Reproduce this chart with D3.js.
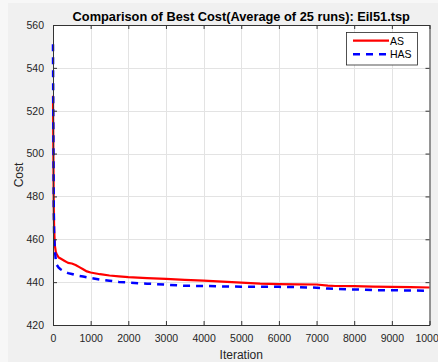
<!DOCTYPE html>
<html>
<head>
<meta charset="utf-8">
<script src="https://cdn.jsdelivr.net/npm/d3@7/dist/d3.min.js"></script>
<style>
  html, body { margin: 0; padding: 0; background: #f7f7f7; }
  svg { display: block; }
  text { font-family: "Liberation Sans", Arial, Helvetica, sans-serif; }
</style>
</head>
<body>
<svg id="chart" width="438" height="362"></svg>
<script>
// Iteration checkpoints shared by both series
const iterations = [0, 10, 20, 30, 50, 75, 100, 150, 200, 300, 400, 500, 600, 700, 800, 900,
  1000, 1250, 1500, 1750, 2000, 2500, 3000, 3500, 4000, 4500, 5000, 5500, 6000, 6500,
  7000, 7300, 7500, 8000, 8500, 9000, 9500, 10000];

// Best cost averaged over 25 runs, Ant System
const asCost = [527, 500, 475, 465, 457, 454, 453, 451.5, 451, 450, 449, 448.7, 448, 447, 446, 445,
  444.5, 443.7, 443.1, 442.7, 442.3, 441.9, 441.5, 441.1, 440.7, 440.2, 439.8, 439.3, 439.1, 439.0,
  438.9, 438.4, 438.2, 438.1, 437.9, 437.8, 437.7, 437.5];

// Best cost averaged over 25 runs, Hybrid Ant System
const hasCost = [551, 510, 475, 462, 455, 450, 448, 446.8, 446, 445, 444.2, 443.8, 443.3, 442.9, 442.6, 442.3,
  441.9, 441.2, 440.7, 440.1, 439.8, 439.3, 438.8, 438.3, 438.2, 438.0, 437.9, 437.9, 437.8, 437.7,
  437.4, 437.0, 436.8, 436.6, 436.3, 436.2, 436.1, 436.0];

const xTicks = [0, 1000, 2000, 3000, 4000, 5000, 6000, 7000, 8000, 9000, 10000];
const yTicks = [420, 440, 460, 480, 500, 520, 540, 560];

const seriesNames = ["AS", "HAS"];
const seriesColors = ["#ff0000", "#0000ff"];

const svg = d3.select("#chart");
const W = 438, H = 362;
const pLeft = 53, pRight = 429.5, pTop = 25, pBottom = 325;

// figure background
svg.append("rect").attr("x", 8).attr("y", 3).attr("width", W - 8).attr("height", H - 3)
  .attr("fill", "#f0f0f0");

const x = d3.scaleLinear().domain([0, 10000]).range([pLeft, pRight]);
const y = d3.scaleLinear().domain([420, 560]).range([pBottom, pTop]);

// axes area
svg.append("rect").attr("x", pLeft).attr("y", pTop)
  .attr("width", pRight - pLeft).attr("height", pBottom - pTop).attr("fill", "#ffffff");

// grid
const grid = svg.append("g").attr("stroke", "#e3e3e3").attr("stroke-width", 1);
grid.selectAll(".gx").data(xTicks.slice(1, -1)).join("line")
  .attr("x1", d => Math.round(x(d)) + 0.5).attr("x2", d => Math.round(x(d)) + 0.5)
  .attr("y1", pTop).attr("y2", pBottom);
grid.selectAll(".gy").data(yTicks.slice(1, -1)).join("line")
  .attr("y1", d => Math.round(y(d)) + 0.5).attr("y2", d => Math.round(y(d)) + 0.5)
  .attr("x1", pLeft).attr("x2", pRight);

// data lines
const line = d3.line().x((d, i) => x(iterations[i])).y(d => y(d));
const plot = svg.append("g");
plot.append("path").datum(asCost).attr("d", line)
  .attr("fill", "none").attr("stroke", seriesColors[0]).attr("stroke-width", 2.2)
  .attr("stroke-linejoin", "round");
plot.append("path").datum(hasCost).attr("d", line)
  .attr("fill", "none").attr("stroke", seriesColors[1]).attr("stroke-width", 2.5)
  .attr("stroke-dasharray", "7,6");

// axes with inward ticks, mirrored on top and right (box on)
const axisColor = "#333333";
const tickLen = 4;
const axisFont = 10.5;
const plain = d3.format("d");

const xAxisB = d3.axisBottom(x).tickValues(xTicks).tickFormat(plain)
  .tickSizeInner(-tickLen).tickSizeOuter(0).tickPadding(10);
const yAxisL = d3.axisLeft(y).tickValues(yTicks).tickFormat(plain)
  .tickSizeInner(-tickLen).tickSizeOuter(0).tickPadding(9);
const xAxisT = d3.axisTop(x).tickValues(xTicks).tickSizeInner(-tickLen).tickSizeOuter(0).tickFormat("");
const yAxisR = d3.axisRight(y).tickValues(yTicks).tickSizeInner(-tickLen).tickSizeOuter(0).tickFormat("");

function styleAxis(g) {
  g.select(".domain").attr("stroke", axisColor);
  g.selectAll(".tick line").attr("stroke", axisColor);
  g.selectAll(".tick text").attr("fill", "#262626").attr("font-size", axisFont)
    .attr("font-family", "'Liberation Sans', Arial, sans-serif");
}

svg.append("g").attr("transform", `translate(0,${pBottom})`).call(xAxisB).call(styleAxis);
svg.append("g").attr("transform", `translate(${pLeft},0)`).call(yAxisL).call(styleAxis);
svg.append("g").attr("transform", `translate(0,${pTop})`).call(xAxisT).call(styleAxis);
svg.append("g").attr("transform", `translate(${pRight},0)`).call(yAxisR).call(styleAxis);

// title and axis labels
svg.append("text").attr("x", (pLeft + pRight) / 2).attr("y", 20.5)
  .attr("text-anchor", "middle").attr("font-weight", "bold").attr("font-size", 12.8)
  .attr("fill", "#000000").text("Comparison of Best Cost(Average of 25 runs): Eil51.tsp");

svg.append("text").attr("x", (pLeft + pRight) / 2).attr("y", 359)
  .attr("text-anchor", "middle").attr("font-size", 12).attr("fill", "#262626").text("Iteration");

svg.append("text").attr("transform", `translate(22.5,${(pTop + pBottom) / 2}) rotate(-90)`)
  .attr("text-anchor", "middle").attr("font-size", 12).attr("fill", "#262626").text("Cost");

// legend
const lg = svg.append("g");
lg.append("rect").attr("x", 346.5).attr("y", 32.5).attr("width", 71).attr("height", 32.5)
  .attr("fill", "#ffffff").attr("stroke", "#262626").attr("stroke-width", 0.8);
seriesNames.forEach((name, i) => {
  const ly = 40.7 + i * 13.6;
  lg.append("line").attr("x1", 353).attr("x2", 389).attr("y1", ly).attr("y2", ly)
    .attr("stroke", seriesColors[i]).attr("stroke-width", i === 0 ? 2.2 : 2.5)
    .attr("stroke-dasharray", i === 0 ? null : "7,6");
  lg.append("text").attr("x", 390).attr("y", ly + 3.8).attr("font-size", axisFont)
    .attr("fill", "#000000").text(name);
});
</script>
</body>
</html>
